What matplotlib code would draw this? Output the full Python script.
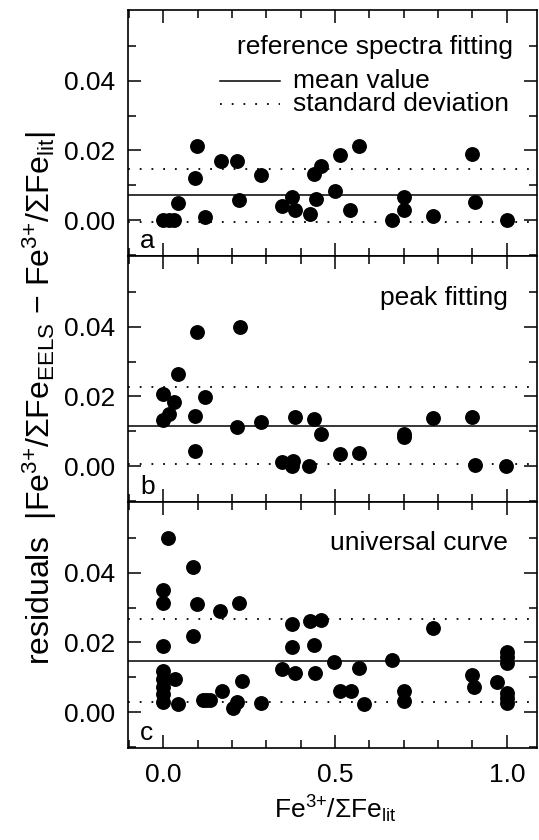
import numpy as np
import matplotlib
matplotlib.use('Agg')
import matplotlib.pyplot as plt
from matplotlib.ticker import MultipleLocator, FixedLocator, FormatStrFormatter

plt.rcParams['font.family'] = ['Liberation Sans', 'DejaVu Sans']
plt.rcParams['mathtext.fontset'] = 'custom'
plt.rcParams['mathtext.rm'] = 'Liberation Sans'
plt.rcParams['mathtext.it'] = 'Liberation Sans:italic'
plt.rcParams['mathtext.bf'] = 'Liberation Sans:bold'

# panel a: reference spectra fitting
x_a = [0.0, 0.016, 0.032, 0.043, 0.092, 0.099, 0.122, 0.168, 0.215, 0.221,
       0.285, 0.345, 0.376, 0.384, 0.427, 0.438, 0.444, 0.459, 0.500, 0.513,
       0.544, 0.571, 0.666, 0.702, 0.701, 0.786, 0.900, 0.907, 1.0]
y_a = [0.0, 0.0, 0.0, 0.0049, 0.0122, 0.0214, 0.0009, 0.0170, 0.0170, 0.0057,
       0.0129, 0.0041, 0.0065, 0.0030, 0.0017, 0.0133, 0.0060, 0.0155, 0.0083, 0.0186,
       0.0029, 0.0212, 0.0, 0.0065, 0.0029, 0.0012, 0.0190, 0.0052, 0.0]

# panel b: peak fitting
x_b = [-0.002, 0.0, 0.017, 0.031, 0.044, 0.092, 0.092, 0.097, 0.122, 0.214,
       0.224, 0.284, 0.345, 0.377, 0.374, 0.383, 0.425, 0.438, 0.458, 0.513,
       0.571, 0.702, 0.702, 0.786, 0.900, 0.907, 0.998]
y_b = [0.0206, 0.0132, 0.0149, 0.0184, 0.0264, 0.0144, 0.0043, 0.0384, 0.0197, 0.0112,
       0.0398, 0.0128, 0.0012, 0.0014, 0.0, 0.0142, 0.0, 0.0136, 0.0093, 0.0034,
       0.0038, 0.0091, 0.0083, 0.0137, 0.0142, 0.0002, 0.0]

# panel c: universal curve
x_c = [0.0, 0.0, 0.0, 0.0, 0.0, 0.0, 0.0, 0.0,
       0.014, 0.034, 0.043, 0.087, 0.098, 0.087, 0.114, 0.125, 0.137,
       0.165, 0.170, 0.202, 0.215, 0.220, 0.228, 0.285, 0.345, 0.374, 0.374,
       0.384, 0.427, 0.438, 0.442, 0.459, 0.497, 0.513, 0.547, 0.571, 0.583,
       0.666, 0.702, 0.702, 0.786, 0.900, 0.905, 0.971,
       1.0, 1.0, 1.0, 1.0, 1.0, 1.0]
y_c = [0.0351, 0.0314, 0.0189, 0.0117, 0.0094, 0.0071, 0.0051, 0.0029,
       0.0500, 0.0094, 0.0023, 0.0417, 0.0310, 0.0217, 0.0035, 0.0035, 0.0035,
       0.0289, 0.0061, 0.0013, 0.0029, 0.0314, 0.0089, 0.0025, 0.0125, 0.0253, 0.0187,
       0.0111, 0.0261, 0.0194, 0.0111, 0.0264, 0.0144, 0.0062, 0.0060, 0.0126, 0.0024,
       0.0150, 0.0062, 0.0033, 0.0242, 0.0107, 0.0073, 0.0085,
       0.0173, 0.0157, 0.0140, 0.0054, 0.0040, 0.0026]

means = [0.0072, 0.0116, 0.0148]
stds = [0.0076, 0.0111, 0.0120]
titles = ['reference spectra fitting', 'peak fitting', 'universal curve']
letters = ['a', 'b', 'c']

fig = plt.figure(figsize=(5.39, 8.40), dpi=100)
left, width = 128 / 539, 409 / 539
tops = [10, 256, 502]
h = 246
axes = []
for i in range(3):
    bottom = 1 - (tops[i] + h) / 840
    ax = fig.add_axes([left, bottom, width, h / 840])
    axes.append(ax)

fs = 19
dots = (0, (1, 5.5))
data = [(x_a, y_a), (x_b, y_b), (x_c, y_c)]
for i, ax in enumerate(axes):
    xs, ys = data[i]
    ax.scatter(xs, ys, s=115, color='black', linewidths=0, zorder=3, clip_on=False)
    ax.axhline(means[i], color='black', lw=1.1)
    ax.axhline(means[i] + stds[i], color='black', lw=1.3, ls=dots)
    ax.axhline(means[i] - stds[i], color='black', lw=1.3, ls=dots)
    ax.set_xlim(-0.103, 1.088)
    ax.set_ylim(-0.0103, 0.0603)
    ax.xaxis.set_major_locator(FixedLocator([0.0, 0.5, 1.0]))
    ax.xaxis.set_minor_locator(MultipleLocator(0.1))
    ax.yaxis.set_major_locator(FixedLocator([0.0, 0.02, 0.04]))
    ax.yaxis.set_minor_locator(FixedLocator([-0.01, 0.01, 0.03, 0.05]))
    ax.xaxis.set_major_formatter(FormatStrFormatter('%.1f'))
    ax.yaxis.set_major_formatter(FormatStrFormatter('%.2f'))
    ax.tick_params(which='both', direction='in', top=True, right=True, width=1.1)
    ax.tick_params(which='major', length=9.5, labelsize=fs, pad=9)
    ax.tick_params(which='minor', length=6)
    ax.tick_params(axis='x', which='major', pad=11)
    ax.tick_params(labelbottom=(i == 2))
    for sp in ax.spines.values():
        sp.set_linewidth(1.2)
    ax.text(0.03, 0.012, letters[i], transform=ax.transAxes, fontsize=fs,
            ha='left', va='bottom')

axes[0].text(0.941, 0.85, titles[0], transform=axes[0].transAxes, fontsize=fs,
             ha='right', va='center')
axes[0].plot([0.225, 0.372], [0.712, 0.712], color='black', lw=1.1,
             transform=axes[0].transAxes)
axes[0].text(0.403, 0.712, 'mean value', transform=axes[0].transAxes, fontsize=fs,
             ha='left', va='center')
axes[0].plot([0.225, 0.372], [0.617, 0.617], color='black', lw=1.3, ls=dots,
             transform=axes[0].transAxes)
axes[0].text(0.403, 0.617, 'standard deviation', transform=axes[0].transAxes,
             fontsize=fs, ha='left', va='center')
axes[1].text(0.929, 0.83, titles[1], transform=axes[1].transAxes, fontsize=fs,
             ha='right', va='center')
axes[2].text(0.929, 0.834, titles[2], transform=axes[2].transAxes, fontsize=fs,
             ha='right', va='center')

fig.text(335 / 539, 1 - 809 / 840, 'Fe$^{3{+}}$/ΣFe$_{\\rm lit}$', fontsize=fs,
         ha='center', va='center')
fig.text(40 / 539, 1 - 398 / 840,
         'residuals  |Fe$^{3{+}}$/ΣFe$_{\\rm EELS}$ $-$ Fe$^{3{+}}$/ΣFe$_{\\rm lit}$|',
         fontsize=23, rotation=90, ha='center', va='center')

fig.savefig('out.png', dpi=100)
